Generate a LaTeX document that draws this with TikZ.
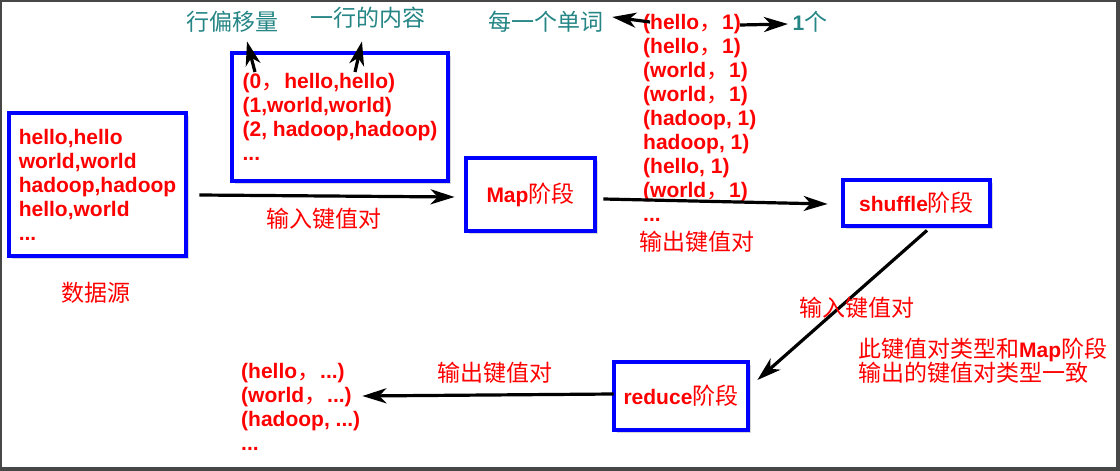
\documentclass[tikz,border=0pt]{standalone}
\usepackage{fontspec}
\setmainfont{Liberation Sans}
\newfontfamily\cjk{Noto Sans CJK SC}
\usetikzlibrary{arrows.meta,shadows}
\definecolor{hintcol}{RGB}{38,134,134}
\newcommand\zh[1]{{\cjk\mdseries\fontsize{23}{24}\selectfont #1}}
\newcommand\lat[1]{{\rmfamily\bfseries\fontsize{21}{24}\selectfont #1}}
\newcommand\fc{\zh{，}}
\tikzset{
  stage/.style={draw=blue,line width=3.8pt,fill=white,text=red,
    drop shadow={shadow xshift=2.5pt,shadow yshift=-2.5pt,opacity=.3},
    font=\bfseries\fontsize{21}{24}\selectfont},
  kv/.style={text=red,font=\bfseries\fontsize{21}{24}\selectfont,align=left,inner sep=0pt},
  note/.style={text=red,font=\cjk\fontsize{23}{24}\selectfont,inner sep=1pt},
  hint/.style={text=hintcol,font=\cjk\fontsize{23}{24}\selectfont,inner sep=1pt},
  arr/.style={line width=3.2pt,-{Stealth[length=24pt 0,width=15pt 0,inset=7pt 0]}}
}
\begin{document}
\begin{tikzpicture}[x=1pt,y=-1pt]
  \fill[black!72] (0,0) rectangle (1120,471);
  \fill[white] (2,2) rectangle (1116,467);

  \node[stage,minimum width=177pt,minimum height=143pt,align=left] (src) at (97.5,184.5)
    {hello,hello\\world,world\\hadoop,hadoop\\hello,world\\...};
  \node[note] (srclbl) at (96,293) {数据源};

  \node[stage,minimum width=216pt,minimum height=128pt,align=left] (pairs) at (340,117)
    {(0\fc hello,hello)\\(1,world,world)\\(2, hadoop,hadoop)\\...};
  \node[hint] (offlbl) at (232,22) {行偏移量};
  \node[hint] (linelbl) at (368,18) {一行的内容};
  \coordinate (zero) at (255,72);
  \coordinate (line) at (355,72);
  \draw[arr] (zero) -- ([shift={(15,7.5)}]offlbl.south);
  \draw[arr] (line) -- ([shift={(-6,11.5)}]linelbl.south);

  \node[stage,minimum width=129pt,minimum height=73pt] (map) at (530.5,194.5) {Map\zh{阶段}};
  \draw[arr] ([shift={(11.5,10.5)}]src.east) -- ([shift={(-9.5,2.5)}]map.west);
  \node[note] (inlbl) at (324,219) {输入键值对};

  \node[kv,anchor=west] (mapout) at (643,118)
    {(hello\fc 1)\\(hello\fc 1)\\(world\fc 1)\\(world\fc 1)\\(hadoop, 1)\\hadoop, 1)\\(hello, 1)\\(world\fc 1)\\...};
  \node[note] (outlbl) at (697,242) {输出键值对};
  \node[hint] (wordlbl) at (546,22) {每一个单词};
  \node[hint] (onelbl) at (810,22) {\lat{1}个};
  \coordinate (word) at (650,22);
  \coordinate (one) at (740,25);
  \draw[arr] (word) -- ([shift={(7.5,-5)}]wordlbl.east);
  \draw[arr] (one) -- ([shift={(-3.5,2)}]onelbl.west);

  \node[stage,minimum width=147pt,minimum height=46pt] (shuffle) at (916.5,203) {shuffle\zh{阶段}};
  \draw[arr] ([shift={(6.5,4.5)}]map.east) -- ([shift={(-13.5,1)}]shuffle.west);

  \node[stage,minimum width=134pt,minimum height=68pt] (reduce) at (681,396) {reduce\zh{阶段}};
  \draw[arr] ([shift={(10.5,2.5)}]shuffle.south) -- ([shift={(7.5,-16)}]reduce.east);
  \node[note] (in2lbl) at (857,308) {输入键值对};
  \node[note,align=left,anchor=west] (typenote) at (857,361)
    {此键值对类型和\lat{Map}阶段\\输出的键值对类型一致};

  \node[kv,anchor=west] (result) at (241,407)
    {(hello\fc ...)\\(world\fc ...)\\(hadoop, ...)\\...};
  \draw[arr] ([shift={(1.5,-2)}]reduce.west) -- ([shift={(2,-11)}]result.east);
  \node[note] (out2lbl) at (495,373) {输出键值对};
\end{tikzpicture}
\end{document}
